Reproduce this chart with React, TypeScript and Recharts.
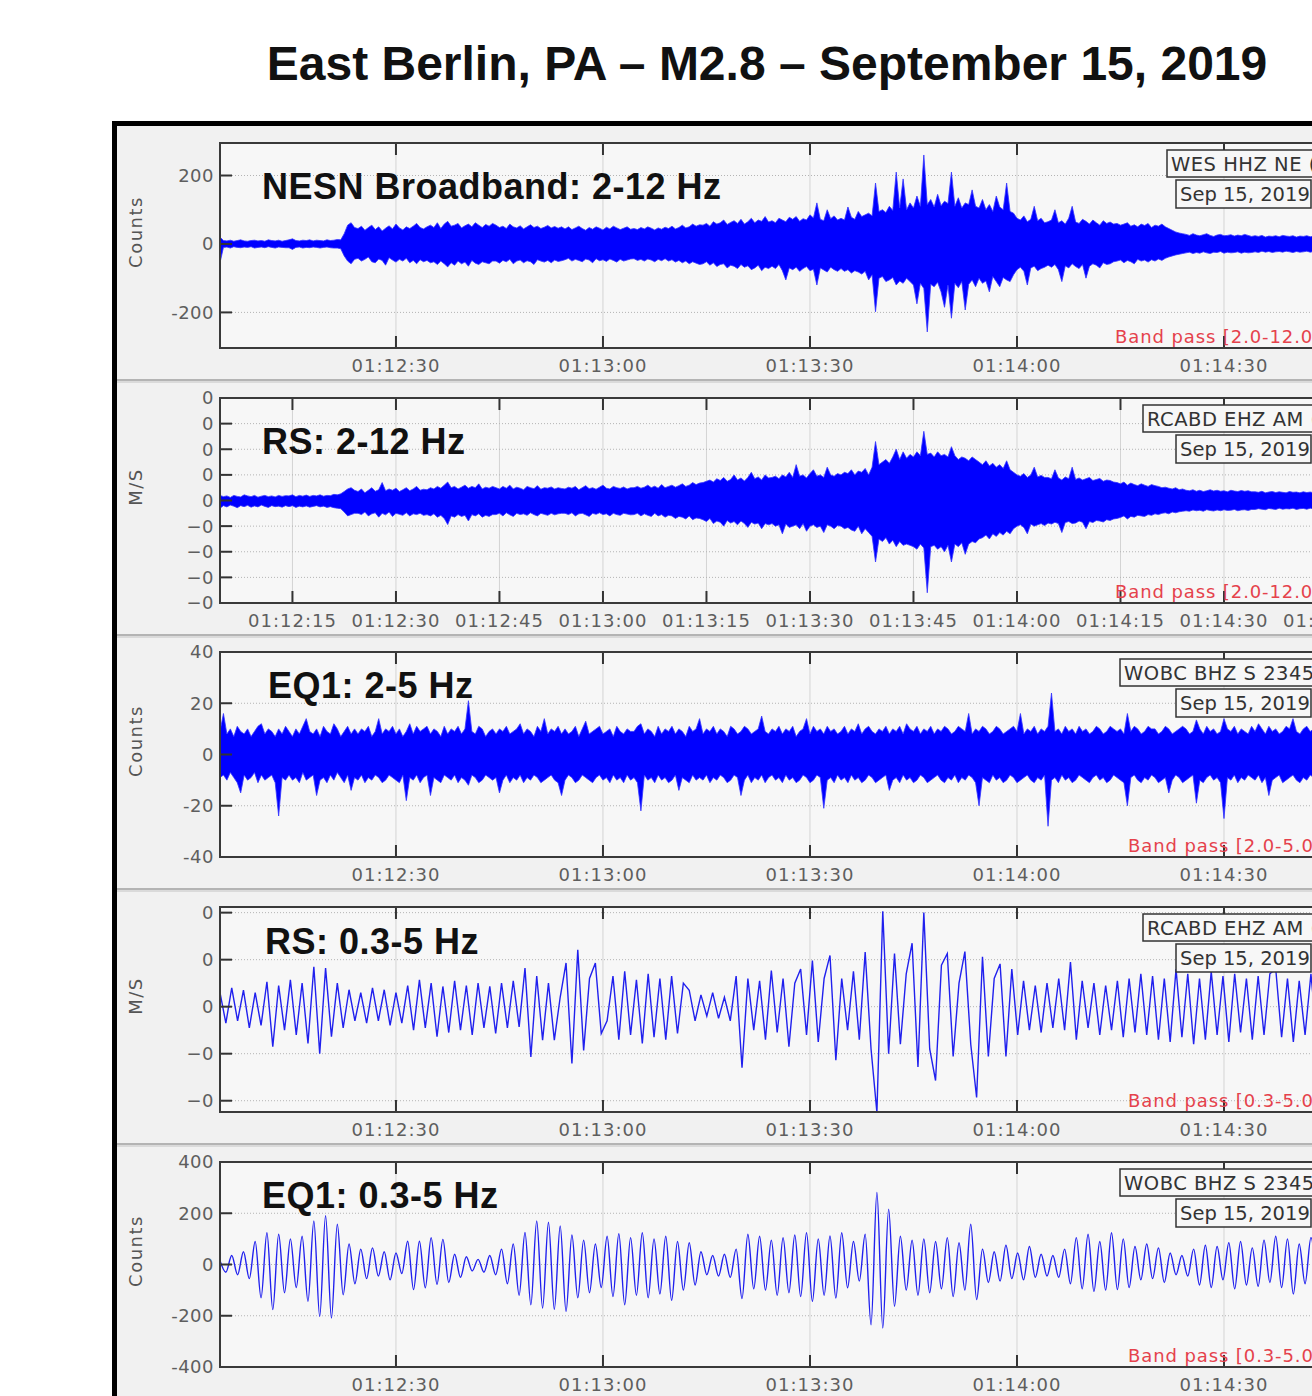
import React from 'react';
import { ComposedChart, Area, Line, XAxis, YAxis, CartesianGrid } from 'recharts';

// ---------- time base (seconds after 01:12:00) ----------
const START_T = 4.5;
const DENSE_DT = 0.5;
const OSC_DT = 0.85;
const X_DOMAIN: [number, number] = [4.5, 170];

const X_TICKS_30 = [30, 60, 90, 120, 150];
const X_LABELS_30 = ['01:12:30', '01:13:00', '01:13:30', '01:14:00', '01:14:30'];
const X_TICKS_15 = [15, 30, 45, 60, 75, 90, 105, 120, 135, 150, 165];
const X_LABELS_15 = ['01:12:15', '01:12:30', '01:12:45', '01:13:00', '01:13:15', '01:13:30', '01:13:45', '01:14:00', '01:14:15', '01:14:30', '01:14:45'];

const Y_TICKS_NESN = [-200, 0, 200];
const Y_LABELS_NESN = ['-200', '0', '200'];
const Y_TICKS_RS12 = [-4, -3, -2, -1, 0, 1, 2, 3, 4];
const Y_LABELS_RS12 = ['\u22120', '\u22120', '\u22120', '\u22120', '0', '0', '0', '0', '0'];
const Y_TICKS_EQ25 = [-40, -20, 0, 20, 40];
const Y_LABELS_EQ25 = ['-40', '-20', '0', '20', '40'];
const Y_TICKS_RS03 = [-2, -1, 0, 1, 2];
const Y_LABELS_RS03 = ['\u22120', '\u22120', '0', '0', '0'];
const Y_TICKS_EQ03 = [-400, -200, 0, 200, 400];
const Y_LABELS_EQ03 = ['-400', '-200', '0', '200', '400'];

// ---------- NESN Broadband 2-12 Hz (counts), envelope every 0.5 s ----------
const NESN_HI = [
  20, 10, 9, 11, 8, 10, 12, 9, 8, 10, 11, 9, 10, 8, 12, 10, 9, 11, 8, 10,
  12, 15, 10, 9, 11, 10, 12, 9, 11, 10, 9, 12, 10, 11, 13, 12, 30, 55, 62, 48,
  45, 52, 40, 48, 55, 42, 50, 38, 46, 53, 44, 58, 47, 41, 50, 45, 52, 60, 48, 44,
  50, 55, 48, 62, 45, 58, 66, 52, 55, 60, 47, 53, 58, 50, 62, 55, 48, 57, 52, 60,
  55, 48, 52, 45, 58, 50, 47, 53, 44, 50, 56, 48, 52, 45, 49, 54, 47, 51, 46, 50,
  44, 50, 42, 47, 52, 45, 40, 48, 43, 50, 46, 41, 49, 44, 52, 47, 42, 46, 50, 43,
  45, 42, 48, 44, 50, 46, 41, 47, 43, 49, 45, 52, 44, 48, 55, 47, 50, 58, 52, 56,
  55, 60, 52, 65, 58, 62, 70, 57, 63, 68, 60, 72, 58, 65, 75, 62, 70, 66, 80, 64,
  68, 62, 75, 70, 65, 78, 72, 80, 66, 74, 70, 85, 76, 120, 72, 68, 100, 74, 82, 70,
  75, 70, 108, 78, 72, 95, 80, 85, 90, 82, 178, 95, 100, 92, 110, 98, 210, 105, 190, 100,
  120, 105, 140, 110, 260, 115, 130, 108, 145, 112, 125, 118, 210, 110, 135, 105, 120, 115, 158, 110,
  105, 130, 100, 115, 95, 140, 108, 100, 178, 95, 90, 75, 70, 82, 65, 72, 110, 68, 75, 62,
  65, 70, 100, 62, 68, 58, 75, 110, 64, 60, 72, 66, 58, 70, 62, 55, 68, 60, 64, 58,
  60, 55, 58, 62, 52, 56, 50, 58, 54, 60, 48, 55, 52, 58, 50, 45, 40, 35, 32, 30,
  28, 25, 30, 26, 24, 27, 30, 25, 22, 26, 28, 24, 25, 27, 23, 26, 24, 28, 25, 22,
  24, 22, 25, 20, 23, 22, 24, 21, 25, 23, 22, 24, 20, 23, 22, 24, 21, 23, 22, 24,
];
const NESN_LO = [
  -55, -10, -9, -12, -8, -10, -11, -9, -10, -8, -12, -10, -9, -11, -8, -10, -12, -9, -10, -11,
  -11, -16, -10, -9, -12, -10, -11, -9, -10, -12, -10, -9, -11, -12, -12, -14, -35, -50, -58, -45,
  -42, -50, -45, -38, -52, -55, -44, -48, -62, -40, -47, -53, -45, -50, -42, -55, -48, -58, -46, -52,
  -48, -55, -52, -60, -50, -58, -67, -55, -62, -50, -58, -53, -65, -48, -56, -60, -52, -55, -58, -50,
  -50, -56, -48, -52, -45, -58, -50, -47, -55, -49, -52, -60, -46, -50, -53, -48, -55, -47, -51, -49,
  -46, -42, -50, -45, -48, -52, -44, -47, -55, -43, -49, -46, -51, -44, -48, -53, -45, -50, -47, -44,
  -43, -48, -45, -50, -44, -47, -52, -45, -49, -43, -50, -46, -53, -48, -55, -50, -58, -52, -56, -60,
  -58, -52, -62, -55, -66, -60, -58, -70, -62, -65, -72, -60, -68, -64, -75, -70, -62, -78, -68, -72,
  -65, -72, -60, -78, -105, -70, -75, -68, -80, -72, -66, -78, -74, -120, -70, -76, -82, -68, -75, -80,
  -72, -80, -75, -85, -78, -82, -88, -80, -105, -90, -198, -100, -95, -110, -105, -98, -120, -108, -115, -100,
  -110, -120, -175, -115, -130, -257, -118, -125, -112, -140, -185, -120, -217, -115, -128, -110, -193, -118, -105, -125,
  -100, -115, -108, -140, -95, -110, -125, -98, -105, -110, -90, -75, -68, -80, -120, -70, -65, -78, -72, -68,
  -62, -68, -60, -75, -110, -64, -70, -58, -66, -72, -60, -100, -65, -58, -62, -70, -55, -60, -58, -52,
  -50, -47, -55, -48, -52, -58, -45, -50, -47, -53, -46, -50, -44, -48, -42, -38, -35, -32, -30, -28,
  -26, -24, -28, -25, -27, -23, -26, -28, -24, -25, -22, -27, -24, -26, -25, -23, -27, -24, -26, -25,
  -23, -25, -21, -24, -22, -25, -23, -22, -24, -21, -23, -25, -22, -24, -23, -21, -24, -22, -23, -22,
];

// ---------- RS 2-12 Hz (M/S, scaled units), envelope every 0.5 s ----------
const RS12_HI = [
  0.2, 0.15, 0.18, 0.12, 0.2, 0.16, 0.14, 0.22, 0.18, 0.15, 0.2, 0.13, 0.17, 0.2, 0.15, 0.18, 0.14, 0.2, 0.16, 0.19,
  0.18, 0.22, 0.15, 0.2, 0.17, 0.21, 0.16, 0.2, 0.18, 0.22, 0.17, 0.2, 0.19, 0.24, 0.22, 0.26, 0.35, 0.45, 0.5, 0.4,
  0.35, 0.45, 0.3, 0.4, 0.5, 0.36, 0.42, 0.7, 0.38, 0.45, 0.4, 0.48, 0.35, 0.42, 0.5, 0.38, 0.45, 0.55, 0.4, 0.44,
  0.42, 0.5, 0.45, 0.55, 0.48, 0.6, 0.72, 0.5, 0.55, 0.45, 0.52, 0.6, 0.48, 0.55, 0.5, 0.65, 0.45, 0.52, 0.48, 0.55,
  0.5, 0.45, 0.55, 0.48, 0.6, 0.45, 0.52, 0.48, 0.42, 0.55, 0.5, 0.46, 0.58, 0.44, 0.5, 0.48, 0.53, 0.45, 0.5, 0.47,
  0.45, 0.52, 0.48, 0.55, 0.42, 0.5, 0.58, 0.46, 0.5, 0.44, 0.52, 0.6, 0.48, 0.45, 0.55, 0.5, 0.47, 0.53, 0.45, 0.5,
  0.5, 0.55, 0.48, 0.52, 0.6, 0.5, 0.56, 0.48, 0.62, 0.5, 0.55, 0.6, 0.52, 0.58, 0.65, 0.55, 0.6, 0.7, 0.62, 0.68,
  0.7, 0.75, 0.8, 0.72, 0.85, 0.78, 0.9, 0.75, 0.82, 1.0, 0.8, 0.88, 0.76, 0.9, 1.1, 0.85, 0.92, 0.8, 1.0, 0.88,
  0.9, 0.95, 0.85, 1.0, 0.92, 1.1, 0.9, 1.4, 0.95, 1.0, 0.88, 1.05, 1.2, 0.95, 1.0, 0.9, 1.3, 1.0, 0.95, 1.05,
  1.0, 1.1, 1.05, 1.2, 1.0, 1.15, 1.1, 1.25, 1.0, 1.3, 2.3, 1.4, 1.5, 1.6, 1.45, 1.7, 2.0, 1.6, 1.9, 1.65,
  1.8, 1.7, 1.9, 1.75, 2.7, 1.8, 1.85, 1.7, 1.9, 1.75, 1.8, 1.7, 2.1, 1.75, 1.6, 1.7, 1.65, 1.55, 1.7, 1.6,
  1.5, 1.4, 1.55, 1.35, 1.45, 1.3, 1.4, 1.25, 1.55, 1.2, 1.1, 1.0, 0.95, 1.05, 0.9, 1.0, 1.3, 0.92, 0.98, 0.9,
  0.9, 0.85, 1.2, 0.88, 0.8, 0.92, 0.85, 1.3, 0.82, 0.88, 0.8, 0.85, 0.9, 0.78, 0.82, 0.86, 0.75, 0.8, 0.78, 0.72,
  0.7, 0.65, 0.72, 0.6, 0.68, 0.62, 0.58, 0.65, 0.6, 0.55, 0.62, 0.58, 0.55, 0.5, 0.52, 0.48, 0.45, 0.5, 0.42, 0.45,
  0.4, 0.38, 0.42, 0.36, 0.4, 0.35, 0.38, 0.42, 0.37, 0.4, 0.36, 0.38, 0.34, 0.4, 0.37, 0.35, 0.39, 0.36, 0.38, 0.34,
  0.34, 0.32, 0.36, 0.3, 0.33, 0.35, 0.31, 0.34, 0.32, 0.3, 0.35, 0.32, 0.33, 0.3, 0.34, 0.31, 0.33, 0.3, 0.32, 0.34,
];
const RS12_LO = [
  -0.3, -0.2, -0.25, -0.18, -0.22, -0.28, -0.2, -0.24, -0.19, -0.26, -0.21, -0.25, -0.18, -0.23, -0.27, -0.2, -0.24, -0.22, -0.26, -0.2,
  -0.24, -0.2, -0.27, -0.22, -0.25, -0.21, -0.26, -0.23, -0.2, -0.25, -0.22, -0.27, -0.24, -0.28, -0.3, -0.32, -0.45, -0.6, -0.55, -0.5,
  -0.5, -0.55, -0.45, -0.6, -0.52, -0.48, -0.65, -0.5, -0.56, -0.45, -0.62, -0.5, -0.54, -0.58, -0.48, -0.6, -0.52, -0.55, -0.5, -0.58,
  -0.55, -0.6, -0.52, -0.65, -0.58, -0.7, -0.94, -0.6, -0.65, -0.55, -0.62, -0.58, -0.8, -0.55, -0.6, -0.52, -0.65, -0.58, -0.62, -0.55,
  -0.55, -0.5, -0.6, -0.48, -0.56, -0.62, -0.5, -0.55, -0.52, -0.58, -0.48, -0.55, -0.6, -0.5, -0.54, -0.58, -0.5, -0.56, -0.52, -0.5,
  -0.5, -0.55, -0.48, -0.6, -0.52, -0.5, -0.56, -0.62, -0.5, -0.54, -0.48, -0.55, -0.52, -0.6, -0.5, -0.55, -0.58, -0.5, -0.53, -0.56,
  -0.55, -0.5, -0.6, -0.52, -0.58, -0.62, -0.5, -0.6, -0.55, -0.65, -0.58, -0.6, -0.7, -0.62, -0.65, -0.72, -0.6, -0.75, -0.68, -0.7,
  -0.75, -0.82, -0.7, -0.9, -0.8, -0.85, -1.0, -0.78, -0.88, -0.82, -0.95, -0.8, -0.9, -1.05, -0.85, -0.92, -0.88, -1.1, -0.9, -0.95,
  -0.9, -1.0, -0.95, -1.3, -0.92, -1.05, -1.0, -0.95, -1.1, -0.9, -1.2, -1.0, -0.95, -1.05, -1.0, -1.25, -0.95, -1.0, -1.1, -0.98,
  -1.0, -1.1, -1.05, -1.15, -1.2, -1.0, -1.3, -1.1, -1.25, -1.4, -2.4, -1.5, -1.6, -1.45, -1.7, -1.55, -1.8, -1.6, -1.75, -1.7,
  -1.75, -1.8, -1.9, -1.7, -1.85, -3.6, -1.8, -1.75, -1.9, -1.8, -2.0, -1.75, -2.4, -1.7, -1.8, -1.65, -2.1, -1.7, -1.6, -1.65,
  -1.5, -1.45, -1.35, -1.5, -1.3, -1.4, -1.25, -1.35, -1.2, -1.3, -1.1, -1.0, -0.95, -1.05, -1.3, -0.92, -1.0, -0.95, -0.9, -0.98,
  -0.88, -0.92, -0.85, -0.9, -1.25, -0.86, -0.82, -0.9, -0.88, -0.8, -0.85, -1.1, -0.82, -0.86, -0.78, -0.8, -0.84, -0.75, -0.78, -0.72,
  -0.7, -0.66, -0.6, -0.72, -0.62, -0.65, -0.58, -0.6, -0.62, -0.55, -0.58, -0.52, -0.55, -0.5, -0.48, -0.52, -0.45, -0.48, -0.44, -0.42,
  -0.4, -0.42, -0.37, -0.4, -0.38, -0.42, -0.36, -0.39, -0.41, -0.37, -0.4, -0.36, -0.39, -0.38, -0.35, -0.4, -0.37, -0.36, -0.39, -0.35,
  -0.35, -0.32, -0.34, -0.36, -0.31, -0.33, -0.35, -0.3, -0.34, -0.32, -0.33, -0.3, -0.35, -0.32, -0.31, -0.34, -0.3, -0.33, -0.32, -0.31,
];

// ---------- EQ1 2-5 Hz (counts), envelope every 0.5 s ----------
const EQ25_HI = [
  9, 16, 8, 10, 7, 11, 9, 8, 10, 7, 9, 11, 12, 8, 10, 9, 7, 10, 8, 11,
  9, 7, 10, 8, 11, 14, 9, 8, 10, 7, 11, 9, 8, 12, 10, 7, 9, 11, 8, 10,
  8, 10, 9, 11, 7, 9, 14, 8, 10, 9, 11, 8, 10, 7, 9, 12, 8, 11, 9, 10,
  11, 8, 10, 9, 7, 11, 8, 10, 9, 11, 8, 10, 21, 9, 8, 11, 10, 7, 9, 10,
  8, 10, 9, 11, 8, 9, 10, 12, 8, 10, 9, 7, 11, 9, 14, 8, 10, 9, 11, 8,
  10, 8, 9, 11, 7, 10, 13, 8, 9, 10, 11, 8, 9, 10, 7, 11, 9, 8, 10, 9,
  9, 11, 12, 8, 10, 9, 7, 11, 8, 10, 9, 11, 8, 10, 9, 7, 11, 9, 10, 14,
  8, 10, 9, 11, 8, 10, 9, 7, 11, 10, 8, 9, 11, 10, 8, 9, 10, 15, 9, 8,
  10, 9, 11, 8, 10, 9, 11, 7, 9, 10, 14, 8, 11, 9, 10, 8, 11, 9, 10, 8,
  9, 11, 8, 10, 9, 12, 8, 10, 11, 9, 8, 10, 9, 11, 8, 10, 9, 11, 8, 12,
  10, 9, 11, 8, 10, 9, 11, 8, 10, 9, 11, 10, 8, 9, 11, 10, 9, 16, 8, 10,
  9, 11, 10, 8, 9, 11, 10, 8, 9, 10, 11, 9, 16, 8, 10, 9, 11, 8, 10, 9,
  11, 24, 9, 10, 8, 11, 9, 10, 8, 11, 9, 10, 8, 9, 11, 10, 8, 9, 11, 10,
  9, 10, 8, 16, 9, 11, 10, 8, 9, 11, 10, 10, 8, 9, 11, 10, 8, 9, 10, 11,
  10, 8, 9, 13.5, 10, 8, 11, 9, 10, 8, 9, 14, 10, 9, 11, 8, 10, 9, 8, 11,
  9, 12, 10, 8, 11, 9, 10, 8, 9, 11, 10, 14, 9, 8, 10, 11, 9, 10, 8, 9,
];
const EQ25_LO = [
  -9, -8, -10, -7, -9, -11, -15, -8, -10, -9, -7, -11, -8, -10, -9, -8, -11, -24, -9, -10,
  -8, -10, -9, -11, -7, -10, -9, -8, -16, -10, -9, -11, -8, -10, -7, -9, -11, -8, -14, -9,
  -10, -8, -11, -9, -10, -8, -9, -11, -10, -8, -9, -10, -11, -8, -18, -9, -10, -8, -11, -9,
  -8, -16, -9, -10, -11, -8, -9, -10, -8, -11, -9, -10, -12, -8, -9, -11, -10, -8, -9, -10,
  -9, -15, -10, -8, -11, -9, -10, -8, -11, -9, -10, -8, -9, -11, -10, -9, -8, -10, -11, -16,
  -10, -8, -9, -11, -10, -8, -9, -10, -11, -9, -8, -10, -9, -11, -8, -10, -9, -11, -8, -10,
  -9, -11, -22, -8, -10, -9, -11, -8, -10, -9, -11, -10, -8, -14, -9, -10, -11, -8, -10, -9,
  -10, -8, -11, -9, -10, -8, -9, -11, -10, -8, -9, -16, -10, -8, -11, -9, -10, -8, -11, -9,
  -8, -10, -9, -11, -8, -10, -9, -11, -10, -8, -9, -11, -10, -8, -9, -21, -10, -9, -11, -8,
  -10, -9, -11, -8, -10, -9, -11, -10, -8, -9, -11, -10, -9, -8, -14, -10, -9, -11, -8, -10,
  -9, -11, -10, -8, -9, -11, -10, -9, -8, -10, -11, -9, -10, -8, -11, -9, -10, -8, -9, -11,
  -20, -9, -10, -11, -8, -10, -9, -11, -10, -8, -9, -11, -10, -9, -8, -10, -11, -9, -10, -8,
  -28, -10, -9, -11, -8, -10, -9, -11, -10, -8, -9, -10, -11, -9, -8, -10, -9, -11, -10, -8,
  -9, -10, -11, -20, -9, -8, -10, -11, -9, -10, -8, -9, -11, -10, -9, -15, -10, -8, -9, -11,
  -10, -9, -8, -19, -10, -11, -9, -8, -10, -9, -11, -25, -9, -10, -8, -11, -9, -10, -8, -9,
  -10, -8, -11, -9, -16, -10, -9, -8, -11, -10, -9, -8, -10, -11, -9, -10, -8, -9, -11, -10,
];

// ---------- RS 0.3-5 Hz (M/S, scaled units), extrema every 0.85 s ----------
const RS03_VALUES = [
  0.3, -0.35, 0.4, -0.3, 0.35, -0.45, 0.3, -0.4, 0.53, -0.85, 0.45, -0.5, 0.57, -0.6, 0.5, -0.78, 0.85, -1.0, 0.82, -0.64,
  0.5, -0.45, 0.36, -0.3, 0.3, -0.35, 0.4, -0.3, 0.36, -0.4, 0.3, -0.35, 0.45, -0.5, 0.57, -0.45, 0.5, -0.64, 0.43, -0.55,
  0.55, -0.5, 0.45, -0.6, 0.5, -0.45, 0.43, -0.57, 0.5, -0.45, 0.55, -0.43, 0.82, -1.07, 0.65, -0.71, 0.5, -0.71, 0.2, 0.93,
  -1.21, 1.21, -0.93, 0.6, 0.93, -0.57, -0.3, 0.65, -0.7, 0.75, -0.6, 0.57, -0.78, 0.7, -0.65, 0.6, -0.7, 0.65, -0.57, 0.5,
  0.35, -0.3, 0.25, -0.2, 0.3, -0.25, 0.2, -0.3, 0.65, -1.3, 0.6, -0.5, 0.55, -0.7, 0.77, -0.55, 0.6, -0.85, 0.5, 0.8,
  -0.6, 0.98, -0.75, 0.6, 1.09, -1.14, 0.6, -0.5, 0.75, -0.7, 1.16, -0.9, -2.25, 2.03, -1.0, 1.13, -0.8, 0.7, 1.35, -1.28,
  2.0, -0.9, -1.57, 0.88, 1.13, -1.06, 0.5, 1.17, -0.8, -1.93, 1.06, -1.06, 0.6, 0.91, -1.06, 0.8, -0.6, 0.55, -0.5, 0.45,
  -0.55, 0.5, -0.45, 0.6, -0.5, 0.95, -0.7, 0.55, -0.45, 0.5, -0.6, 0.45, -0.5, 0.55, -0.65, 0.6, -0.55, 0.7, -0.6, 0.65,
  -0.7, 0.6, -0.75, 0.8, -0.65, 0.7, -0.8, 0.6, -0.7, 0.75, -0.6, 0.65, -0.75, 0.7, -0.55, 0.6, -0.7, 0.65, -0.6, 0.7,
  0.8, -0.65, 0.6, -0.75, 0.55, -0.6, 0.7, -0.65,
];

// ---------- EQ1 0.3-5 Hz (counts), extrema every 0.85 s ----------
const EQ03_VALUES = [
  15, -30, 35, -40, 50, -55, 90, -130, 124, -176, 118, -110, 100, -90, 110, -144, 170, -203, 190, -209,
  157, -118, 80, -75, 60, -55, 65, -45, 50, -60, 45, -35, 91, -98, 91, -91, 105, -78, 98, -70,
  40, -50, 30, -25, 20, -30, 35, -40, 60, -75, 80, -120, 125, -157, 170, -170, 165, -175, 150, -183,
  115, -130, 95, -110, 80, -90, 110, -125, 120, -157, 105, -120, 124, -130, 100, -115, 110, -140, 90, -100,
  85, -80, 50, -40, 35, -45, 40, -50, 60, -133, 118, -95, 110, -100, 95, -120, 105, -110, 115, -125,
  124, -144, 100, -120, 111, -131, 124, -91, 90, -65, 118, -235, 281, -248, 216, -163, 110, -100, 95, -120,
  100, -110, 90, -95, 105, -125, 85, -100, 157, -137, 60, -70, 50, -65, 75, -55, 45, -60, 70, -50,
  40, -45, 35, -50, 60, -75, 105, -95, 118, -105, 90, -100, 124, -98, 100, -90, 70, -60, 80, -55,
  65, -70, 45, -40, 35, -45, 60, -80, 75, -90, 70, -60, 85, -95, 90, -80, 65, -85, 95, -70,
  110, -90, 100, -115, 80, -75, 105, -95,
];

// ---------- data tables built from the arrays ----------
const toBand = (hi: number[], lo: number[]) =>
  hi.map((h, i) => ({ t: START_T + i * DENSE_DT, band: [lo[i], h] }));
const toOsc = (v: number[]) => v.map((y, i) => ({ t: START_T + i * OSC_DT, v: y }));

// ---------- layout ----------
const PLOT_LEFT = 220;
const PLOT_W = 1142;
const PLOT_H = 205;
const CHART_MT = 10;
const AXIS_W = 100;
const X_AXIS_H = 40;
const CHART_W = PLOT_LEFT + PLOT_W + 10;
const CHART_H = CHART_MT + PLOT_H + X_AXIS_H;
const TICK_FONT = "'DejaVu Sans', 'Liberation Sans', sans-serif";
const BOLD_FONT = "'Liberation Sans', Arial, Helvetica, sans-serif";

type PanelCfg = {
  plotTop: number;
  kind: 'band' | 'osc';
  curve: 'linear' | 'monotone';
  data: any[];
  yDomain: [number, number];
  yTicks: number[];
  yLabels: string[];
  xTicks: number[];
  xLabels: string[];
  yTitle: string;
  title: string;
  titleX: number;
  titleDy: number;
  station: string;
  stationX: number;
  band: string;
  bandX: number;
};

const PANELS: PanelCfg[] = [
  {
    plotTop: 143, kind: 'band', curve: 'linear', data: toBand(NESN_HI, NESN_LO), yDomain: [-304, 295],
    yTicks: Y_TICKS_NESN, yLabels: Y_LABELS_NESN, xTicks: X_TICKS_30, xLabels: X_LABELS_30,
    yTitle: 'Counts', title: 'NESN Broadband: 2-12 Hz', titleX: 262, titleDy: 56,
    station: 'WES HHZ NE (00)', stationX: 1167, band: 'Band pass [2.0-12.0 Hz]', bandX: 1115,
  },
  {
    plotTop: 398, kind: 'band', curve: 'linear', data: toBand(RS12_HI, RS12_LO), yDomain: [-4, 4],
    yTicks: Y_TICKS_RS12, yLabels: Y_LABELS_RS12, xTicks: X_TICKS_15, xLabels: X_LABELS_15,
    yTitle: 'M/S', title: 'RS: 2-12 Hz', titleX: 262, titleDy: 56,
    station: 'RCABD EHZ AM (00)', stationX: 1143, band: 'Band pass [2.0-12.0 Hz]', bandX: 1115,
  },
  {
    plotTop: 652, kind: 'band', curve: 'linear', data: toBand(EQ25_HI, EQ25_LO), yDomain: [-40, 40],
    yTicks: Y_TICKS_EQ25, yLabels: Y_LABELS_EQ25, xTicks: X_TICKS_30, xLabels: X_LABELS_30,
    yTitle: 'Counts', title: 'EQ1: 2-5 Hz', titleX: 268, titleDy: 46,
    station: 'WOBC BHZ S 2345', stationX: 1120, band: 'Band pass [2.0-5.0 Hz]', bandX: 1128,
  },
  {
    plotTop: 907, kind: 'osc', curve: 'linear', data: toOsc(RS03_VALUES), yDomain: [-2.24, 2.12],
    yTicks: Y_TICKS_RS03, yLabels: Y_LABELS_RS03, xTicks: X_TICKS_30, xLabels: X_LABELS_30,
    yTitle: 'M/S', title: 'RS: 0.3-5 Hz', titleX: 265, titleDy: 47,
    station: 'RCABD EHZ AM (00)', stationX: 1143, band: 'Band pass [0.3-5.0 Hz]', bandX: 1128,
  },
  {
    plotTop: 1162, kind: 'osc', curve: 'monotone', data: toOsc(EQ03_VALUES), yDomain: [-400, 400],
    yTicks: Y_TICKS_EQ03, yLabels: Y_LABELS_EQ03, xTicks: X_TICKS_30, xLabels: X_LABELS_30,
    yTitle: 'Counts', title: 'EQ1: 0.3-5 Hz', titleX: 262, titleDy: 46,
    station: 'WOBC BHZ S 2345', stationX: 1120, band: 'Band pass [0.3-5.0 Hz]', bandX: 1128,
  },
];

function Panel({ cfg }: { cfg: PanelCfg }) {
  const bottom = CHART_MT + PLOT_H;
  const xTick = (p: any) => {
    const i = cfg.xTicks.indexOf(p.payload.value);
    return (
      <g>
        <line x1={p.x} x2={p.x} y1={CHART_MT} y2={CHART_MT + 12} stroke="#333" strokeWidth={2} />
        <line x1={p.x} x2={p.x} y1={bottom} y2={bottom - 12} stroke="#333" strokeWidth={2} />
        <text x={p.x} y={p.y} dy="0.71em" textAnchor="middle" fontSize={18} fill="#5e5e5e"
          fontFamily={TICK_FONT} style={{ letterSpacing: 1 }}>{cfg.xLabels[i]}</text>
      </g>
    );
  };
  const yTick = (p: any) => {
    const i = cfg.yTicks.indexOf(p.payload.value);
    return (
      <g>
        <line x1={PLOT_LEFT} x2={PLOT_LEFT + 12} y1={p.y} y2={p.y} stroke="#333" strokeWidth={2} />
        <text x={p.x} y={p.y} dy="0.355em" textAnchor="end" fontSize={18} fill="#5e5e5e"
          fontFamily={TICK_FONT} style={{ letterSpacing: 0.5 }}>{cfg.yLabels[i]}</text>
      </g>
    );
  };
  return (
    <div style={{ position: 'absolute', left: 0, top: cfg.plotTop - CHART_MT }}>
      <ComposedChart width={CHART_W} height={CHART_H} data={cfg.data}
        margin={{ top: CHART_MT, right: 10, bottom: 0, left: PLOT_LEFT - AXIS_W }}>
        <CartesianGrid horizontal={false} stroke="#d4d4d4" fill="#f7f7f7" />
        <CartesianGrid vertical={false} stroke="#b4b4b4" strokeDasharray="1 2" />
        <XAxis dataKey="t" type="number" domain={X_DOMAIN} allowDataOverflow ticks={cfg.xTicks}
          interval={0} tick={xTick} tickLine={false} axisLine={false} tickSize={0} tickMargin={11}
          height={X_AXIS_H} />
        <YAxis type="number" domain={cfg.yDomain} allowDataOverflow ticks={cfg.yTicks} interval={0}
          tick={yTick} tickLine={false} axisLine={false} tickSize={0} tickMargin={6} width={AXIS_W} />
        {cfg.kind === 'band' ? (
          <Area type="linear" dataKey="band" stroke="#3434ff" strokeWidth={0.8} fill="#0000ff"
            fillOpacity={1} dot={false} activeDot={false} isAnimationActive={false} />
        ) : (
          <Line type={cfg.curve} dataKey="v" stroke="#2020ee" strokeWidth={1.4} dot={false}
            activeDot={false} isAnimationActive={false} />
        )}
      </ComposedChart>
    </div>
  );
}

const SEPARATORS = [379, 634, 888, 1143];

export default function App() {
  return (
    <div style={{ position: 'fixed', left: 0, top: 0, width: 1312, height: 1396, overflow: 'hidden', background: '#ffffff' }}>
      <svg width={1312} height={1396} style={{ position: 'absolute', left: 0, top: 0 }}>
        <rect x={112} y={121} width={1300} height={1400} fill="#f1f1f1" />
        <rect x={112} y={121} width={5} height={1400} fill="#000" />
        <rect x={112} y={121} width={1300} height={5} fill="#000" />
        {SEPARATORS.map((y) => (
          <g key={y}>
            <rect x={117} y={y} width={1300} height={2} fill="#b4b4b4" />
            <rect x={117} y={y + 2} width={1300} height={2} fill="#dadada" />
          </g>
        ))}
      </svg>
      {PANELS.map((cfg, i) => <Panel key={i} cfg={cfg} />)}
      <svg width={1312} height={1396} style={{ position: 'absolute', left: 0, top: 0, pointerEvents: 'none' }}>
        <text x={767} y={80} textAnchor="middle" fontFamily={BOLD_FONT} fontWeight="bold" fontSize={48} fill="#111">
          East Berlin, PA – M2.8 – September 15, 2019
        </text>
        {PANELS.map((cfg, i) => {
          const pt = cfg.plotTop;
          const pb = pt + PLOT_H;
          return (
            <g key={i}>
              <rect x={PLOT_LEFT} y={pt} width={PLOT_W} height={PLOT_H} fill="none" stroke="#3a3a3a" strokeWidth={2} />
              <text transform={`translate(135, ${pt + 89}) rotate(-90)`} textAnchor="middle" dominantBaseline="central"
                fontFamily={TICK_FONT} fontSize={18} fill="#555" style={{ letterSpacing: 1.5 }}>{cfg.yTitle}</text>
              <text x={cfg.titleX} y={pt + cfg.titleDy} fontFamily={BOLD_FONT} fontWeight="bold" fontSize={36}
                fill="#111" style={{ letterSpacing: 0.5 }}>{cfg.title}</text>
              <rect x={cfg.stationX} y={pt + 7} width={320} height={27} fill="#f7f7f7" stroke="#333" strokeWidth={1.5} />
              <text x={cfg.stationX + 4} y={pt + 28} fontFamily={TICK_FONT} fontSize={19.5} fill="#333"
                style={{ letterSpacing: 0.5 }}>{cfg.station}</text>
              <rect x={1176} y={pt + 37} width={135} height={28} fill="#f7f7f7" stroke="#333" strokeWidth={1.5} />
              <text x={1180} y={pt + 58} fontFamily={TICK_FONT} fontSize={19.5} fill="#333">Sep 15, 2019</text>
              <text x={cfg.bandX} y={pb - 5} fontFamily={TICK_FONT} fontSize={18} fill="#e5424c"
                style={{ letterSpacing: 0.9 }}>{cfg.band}</text>
            </g>
          );
        })}
      </svg>
    </div>
  );
}
